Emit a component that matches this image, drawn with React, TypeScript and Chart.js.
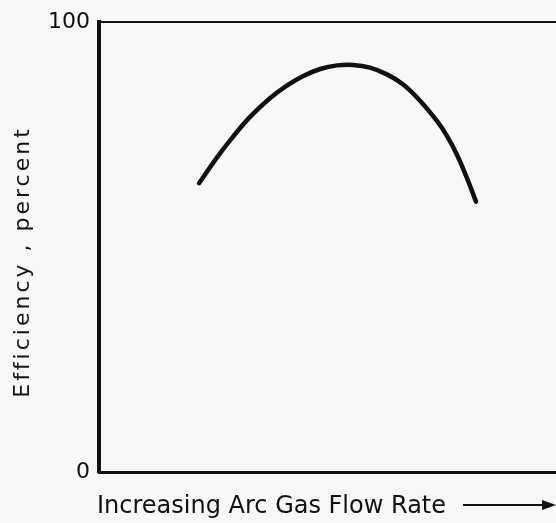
import React, { useEffect, useRef } from "react";
import { Chart, registerables } from "chart.js";

Chart.register(...registerables);

const flowRate = [21.9, 25.8, 29.3, 33.0, 37.4, 41.1, 44.6, 48.4, 52.1, 55.6, 59.3, 63.0, 66.5, 70.2, 73.9, 76.1, 78.3, 80.5, 82.5];
const efficiency = [64.2, 69.9, 74.5, 78.9, 83.1, 85.9, 88.0, 89.6, 90.4, 90.5, 89.9, 88.4, 86.2, 82.6, 78.1, 74.8, 70.6, 65.4, 60.1];
const yTickLabels = [0, 100];
const xAxisLabel = "Increasing Arc Gas Flow Rate";
const yAxisLabel = "Efficiency , percent";

const FONT = '"DejaVu Sans", "Noto Sans", sans-serif';
const INK = "#111";

export default function App() {
  const canvasRef = useRef<HTMLCanvasElement | null>(null);

  useEffect(() => {
    if (!canvasRef.current) return;
    const bgPlugin = {
      id: "bg",
      beforeDraw(chart: any) {
        const { ctx, width, height } = chart;
        ctx.save();
        ctx.fillStyle = "#f7f7f7";
        ctx.fillRect(0, 0, width, height);
        ctx.restore();
      },
    };
    const labelPlugin = {
      id: "labels",
      afterDraw(chart: any) {
        const { ctx, chartArea } = chart;
        ctx.save();
        ctx.fillStyle = INK;
        ctx.strokeStyle = INK;
        ctx.font = `24px ${FONT}`;
        ctx.textBaseline = "alphabetic";
        ctx.textAlign = "left";
        const tx = chartArea.left - 2;
        const ty = 513;
        ctx.fillText(xAxisLabel, tx, ty);
        const w = ctx.measureText(xAxisLabel).width;
        // arrow
        const ax0 = tx + w + 17;
        const ax1 = chart.width;
        const ay = 505;
        ctx.lineWidth = 2;
        ctx.beginPath();
        ctx.moveTo(ax0, ay);
        ctx.lineTo(ax1 - 10, ay);
        ctx.stroke();
        ctx.beginPath();
        ctx.moveTo(ax1, ay);
        ctx.lineTo(ax1 - 14, ay - 5);
        ctx.lineTo(ax1 - 14, ay + 5);
        ctx.closePath();
        ctx.fill();
        // y label
        ctx.translate(29, 262);
        ctx.rotate(-Math.PI / 2);
        ctx.textAlign = "center";
        (ctx as any).letterSpacing = "3px";
        ctx.font = `22px ${FONT}`;
        ctx.fillText(yAxisLabel, 0, 0);
        ctx.restore();
      },
    };

    const chart = new Chart(canvasRef.current, {
      type: "line",
      data: {
        datasets: [
          {
            data: flowRate.map((x, i) => ({ x, y: efficiency[i] })),
            borderColor: INK,
            borderWidth: 4.5,
            pointRadius: 0,
            tension: 0.4,
            fill: false,
            borderCapStyle: "round",
            borderJoinStyle: "round",
          },
        ],
      },
      options: {
        responsive: false,
        animation: false,
        events: [],
        layout: { padding: { top: 20, left: 0, right: 0, bottom: 0 } },
        plugins: { legend: { display: false }, tooltip: { enabled: false } },
        scales: {
          x: {
            type: "linear",
            min: 0,
            max: 100,
            ticks: { display: false },
            grid: { display: false },
            border: { display: true, color: INK, width: 3 },
            afterFit(axis: any) {
              axis.height = 51;
            },
          },
          y: {
            type: "linear",
            min: 0,
            max: 100,
            afterBuildTicks(axis: any) {
              axis.ticks = yTickLabels.map((v) => ({ value: v }));
            },
            ticks: {
              color: INK,
              font: { family: FONT, size: 22 },
              padding: 9,
              callback: (v: any) => String(v),
            },
            grid: {
              drawTicks: false,
              color: (c: any) => (c.tick && c.tick.value === 100 ? INK : "transparent"),
              lineWidth: 2,
            },
            border: { display: true, color: INK, width: 4 },
            afterFit(axis: any) {
              axis.width = 99;
            },
          },
        },
      },
      plugins: [bgPlugin, labelPlugin],
    });
    return () => chart.destroy();
  }, []);

  return (
    <div style={{ position: "fixed", left: 0, top: 0, width: 556, height: 523, background: "#f7f7f7" }}>
      <canvas ref={canvasRef} width={556} height={523} style={{ display: "block" }} />
    </div>
  );
}
